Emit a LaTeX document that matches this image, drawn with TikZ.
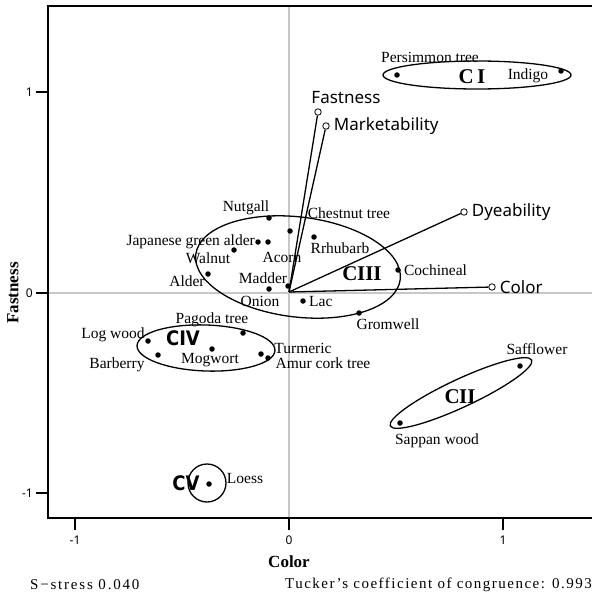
\documentclass[tikz,border=0pt]{standalone}
\usepackage{fontspec}
\setmainfont{Liberation Serif}
\newfontfamily\vecfont{Noto Sans}
\newfontfamily\clusfont{DejaVu Sans Condensed}
\usetikzlibrary{positioning,calc,shapes}

\begin{document}
\begin{tikzpicture}[x=1pt,y=-1pt]
\colorlet{ref line}{black!22}
\tikzset{
     dot/.style={circle,fill=black,inner sep=0pt,minimum size=5.5pt},
     vecend/.style={circle,draw=black,thick,inner sep=0pt,minimum size=6.5pt},
     lbl/.style={font=\fontsize{15.5}{16}\selectfont,inner sep=0pt},
     veclbl/.style={font=\vecfont\fontsize{17}{18}\selectfont,inner sep=0pt},
     clus/.style={font=\bfseries\fontsize{21}{21}\selectfont,inner sep=0pt},
     clussans/.style={font=\clusfont\bfseries\fontsize{20}{20}\selectfont,inner sep=0pt},
     ticklbl/.style={font=\vecfont\fontsize{12}{12}\selectfont,inner sep=0pt},
     outline/.style={draw=black,line width=1.3pt,inner sep=0pt}}

\useasboundingbox (0,0) rectangle (592,596);

% reference lines through the origin
\draw [ref line, line width=2pt] (289,6) -- (289,518);
\draw [ref line, line width=2pt] (48,293) -- (592,293);

% The frame and ticks
\draw [line width=2.2pt] (592,6) -- (48,6) -- (48,518) -- (592,518);
\foreach \y/\t in {92/1, 293/0, 493/-1}{
  \draw [line width=1.5pt] (36,\y) -- (48,\y);
  \node [ticklbl, anchor=east] at (33,\y) {\t};
}
\foreach \x/\t in {75/-1, 289/0, 503/1}{
  \draw [line width=1.5pt] (\x,518) -- (\x,530);
  \node [ticklbl] at (\x,540) {\t};
}
\node (xtitle) [font=\bfseries\fontsize{17}{17}\selectfont] at (289,562) {Color};
\node (ytitle) [font=\bfseries\fontsize{17}{17}\selectfont, rotate=90] at (13,293) {Fastness};

% The clusters
\node (cI)   [ellipse, outline, minimum width=188pt, minimum height=28pt] at (477,75) {};
\node (cII)  [ellipse, outline, minimum width=156pt, minimum height=28pt, rotate=25] at (461,393) {};
\node (cIII) [ellipse, outline, minimum width=206pt, minimum height=100pt, rotate=-7] at (298,267) {};
\node (cIV)  [ellipse, outline, minimum width=138pt, minimum height=46pt, rotate=-2] at (206,348) {};
\node (cV)   [circle, outline, minimum size=38pt] at (207,483) {};

\node [clus] at (472,77) {C\,I};
\node [clus] at (460,397) {C\kern-0.5pt II};
\node [clus] at (362,274) {C\kern-0.5pt III};
\node [clussans] at (183,338) {CIV};
\node [clussans] at (186,483) {CV};

% The vectors
\coordinate (origin) at (289,292);
\node (fastness)  [vecend] at (318,112) {};
\node (market)    [vecend] at (326,126) {};
\node (dyeab)     [vecend] at (464,212) {};
\node (color)     [vecend] at (492,287) {};
\foreach \v in {fastness, market, dyeab, color}
  \draw [line width=1.3pt] (origin) -- (\v);

\node [veclbl] at (346,98) {Fastness};
\node [veclbl, right=4pt of market] {Marketability};
\node [veclbl, right=4pt of dyeab] {Dyeability};
\node [veclbl, right=4pt of color] {Color};

% The dyes
\node (persimmon) [dot] at (397,75) {};
\node (indigo)    [dot] at (561,71) {};
\node (nutgall)   [dot] at (269,218) {};
\node (chestnut)  [dot] at (290,231) {};
\node (rhubarb)   [dot] at (314,237) {};
\node (jgalder)   [dot] at (258,242) {};
\node (acorn)     [dot] at (268,242) {};
\node (walnut)    [dot] at (234,250) {};
\node (alder)     [dot] at (208,274) {};
\node (madder)    [dot] at (288,286) {};
\node (onion)     [dot] at (269,289) {};
\node (lac)       [dot] at (303,301) {};
\node (gromwell)  [dot] at (359,313) {};
\node (cochineal) [dot] at (398,270) {};
\node (logwood)   [dot] at (148,341) {};
\node (barberry)  [dot] at (158,355) {};
\node (mogwort)   [dot] at (212,349) {};
\node (pagoda)    [dot] at (243,333) {};
\node (turmeric)  [dot] at (261,354) {};
\node (amur)      [dot] at (268,358) {};
\node (safflower) [dot] at (520,366) {};
\node (sappan)    [dot] at (400,423) {};
\node (loess)     [dot] at (209,484) {};

% The labels
\node [lbl] at (430,57) {Persimmon tree};
\node [lbl] at (528,76) {Indigo};
\node [lbl] at (246,208) {Nutgall};
\node [lbl] at (349,213) {Chestnut tree};
\node [lbl, anchor=east] at (255,242) {Japanese green alder};
\node [lbl] at (282,257) {Acorn};
\node [lbl] at (340,248) {Rrhubarb};
\node [lbl] at (208,258) {Walnut};
\node [lbl] at (187,281) {Alder};
\node [lbl] at (263,278) {Madder};
\node [lbl] at (260,301) {Onion};
\node [lbl, right=3pt of lac] {Lac};
\node [lbl] at (388,324) {Gromwell};
\node [lbl, right=3pt of cochineal] {Cochineal};
\node [lbl] at (212,320) {Pagoda tree};
\node [lbl] at (113,335) {Log wood};
\node [lbl] at (117,365) {Barberry};
\node [lbl] at (210,360) {Mogwort};
\node [lbl] at (303,348) {Turmeric};
\node [lbl] at (323,363) {Amur cork tree};
\node [lbl] at (537,349) {Safflower};
\node [lbl] at (437,441) {Sappan wood};
\node [lbl] at (245,478) {Loess};

% The notes
\node [font=\addfontfeatures{LetterSpace=12}\fontsize{15}{15}\selectfont, anchor=west, inner sep=0pt] at (30,585) {S−stress 0.040};
\node [font=\addfontfeatures{LetterSpace=10}\fontsize{15}{15}\selectfont, anchor=east, inner sep=0pt] at (592,585) {Tucker’s coefficient of congruence: 0.993};
\end{tikzpicture}
\end{document}
